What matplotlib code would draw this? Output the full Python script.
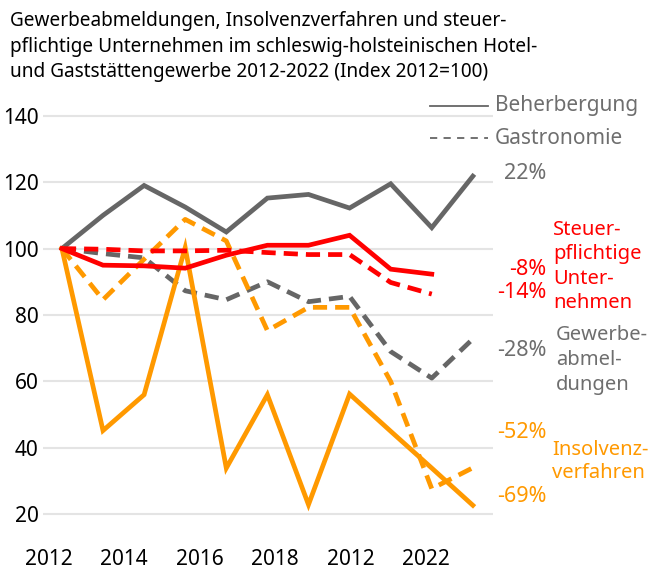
import numpy as np
import matplotlib
matplotlib.use('Agg')
import matplotlib.pyplot as plt
from matplotlib.lines import Line2D

plt.rcParams['font.family'] = ['Noto Sans', 'DejaVu Sans']

# data, index 2012 = 100
years = list(range(2012, 2023))
tick_labels = ['2012', '2014', '2016', '2018', '2012', '2022']

abm_beherbergung = [100, 110, 119, 112.5, 105, 115.2, 116.3, 112.2, 119.5, 106.3, 121.8]
abm_gastronomie = [100, 98.5, 97.2, 87.3, 84.6, 90, 84, 85.6, 69, 61, 72.8]
steuer_beherbergung = [100, 95, 94.8, 94.1, 98, 101, 101, 104, 93.8, 92.3]
steuer_gastronomie = [100, 99.8, 99.3, 99.3, 99.5, 98.8, 98.2, 98.2, 89.8, 86.3]
insolvenz_beherbergung = [100, 45.2, 56, 100.3, 33.9, 56, 22.9, 56.2, 45, 33.9, 22.7]
insolvenz_gastronomie = [100, 84.6, 96.8, 108.8, 102.3, 75.3, 82.3, 82.3, 60, 27.7, 34]

GREY = '#666666'
GREY_TXT = '#6e6e6e'
RED = '#ff0000'
ORANGE = '#ff9900'

W, H = 651, 570


def fx(x):
    return x / W


def fy(y):
    return 1 - y / H


fig = plt.figure(figsize=(W / 100, H / 100), dpi=100)
ax = fig.add_axes([fx(43), fy(534.2), 450 / W, (534.2 - 95.8) / H])

x = np.arange(len(years))
lw = 3.4
dash = (0, (3.0, 1.7))

ax.plot(x, abm_beherbergung, color=GREY, lw=lw, solid_joinstyle='miter')
ax.plot(x, abm_gastronomie, color=GREY, lw=lw, linestyle=dash)
ax.plot(x, insolvenz_beherbergung, color=ORANGE, lw=lw, solid_joinstyle='miter')
ax.plot(x, insolvenz_gastronomie, color=ORANGE, lw=lw, linestyle=dash)
ax.plot(x[:len(steuer_beherbergung)], steuer_beherbergung, color=RED, lw=lw,
        solid_joinstyle='miter')
ax.plot(x[:len(steuer_gastronomie)], steuer_gastronomie, color=RED, lw=lw,
        linestyle=dash)

ax.set_xlim(-0.46, 10.49)
ax.set_ylim(14, 146)
ax.set_yticks([20, 40, 60, 80, 100, 120, 140])
# the year labels of the original do not line up with the data points
ax.set_xticks(np.linspace(-0.32, 8.86, len(tick_labels)))
ax.set_xticklabels(tick_labels)
ax.tick_params(length=0, labelsize=15, colors='black')
ax.tick_params(axis='y', pad=3)
ax.tick_params(axis='x', pad=10.5)
ax.grid(axis='y', color='#e4e4e4', lw=1.5)
ax.set_axisbelow(True)
for s in ax.spines.values():
    s.set_visible(False)

# title
fig.text(fx(10), fy(11),
         'Gewerbeabmeldungen, Insolvenzverfahren und steuer-\n'
         'pflichtige Unternehmen im schleswig-holsteinischen Hotel-\n'
         'und Gaststättengewerbe 2012-2022 (Index 2012=100)',
         ha='left', va='top', fontsize=13.7, linespacing=1.38)

# legend
fig.add_artist(Line2D([fx(430), fx(488)], [fy(106), fy(106)], color=GREY, lw=1.3))
fig.add_artist(Line2D([fx(430), fx(488)], [fy(138), fy(138)], color=GREY, lw=1.3,
                      linestyle=(0, (4, 3.5))))
fig.text(fx(495), fy(106), 'Beherbergung', color=GREY_TXT, fontsize=15, va='center')
fig.text(fx(495), fy(138), 'Gastronomie', color=GREY_TXT, fontsize=15, va='center')

# end labels
for txt, y, c in [('22%', 173, GREY_TXT), ('-8%', 270, RED), ('-14%', 293, RED),
                  ('-28%', 350, GREY_TXT), ('-52%', 433, ORANGE), ('-69%', 497, ORANGE)]:
    fig.text(fx(546), fy(y), txt, color=c, fontsize=15.5, ha='right', va='center')

fs = 14.5
for i, line in enumerate(['Steuer-', 'pflichtige', 'Unter-', 'nehmen']):
    fig.text(fx(553), fy(230 + 24.5 * i), line, color=RED, fontsize=fs, va='center')
for i, line in enumerate(['Gewerbe-', 'abmel-', 'dungen']):
    fig.text(fx(556), fy(335 + 25 * i), line, color=GREY_TXT, fontsize=fs, va='center')
for i, line in enumerate(['Insolvenz-', 'verfahren']):
    fig.text(fx(552), fy(450 + 23.5 * i), line, color=ORANGE, fontsize=fs, va='center')

fig.savefig('out.png', dpi=100)
